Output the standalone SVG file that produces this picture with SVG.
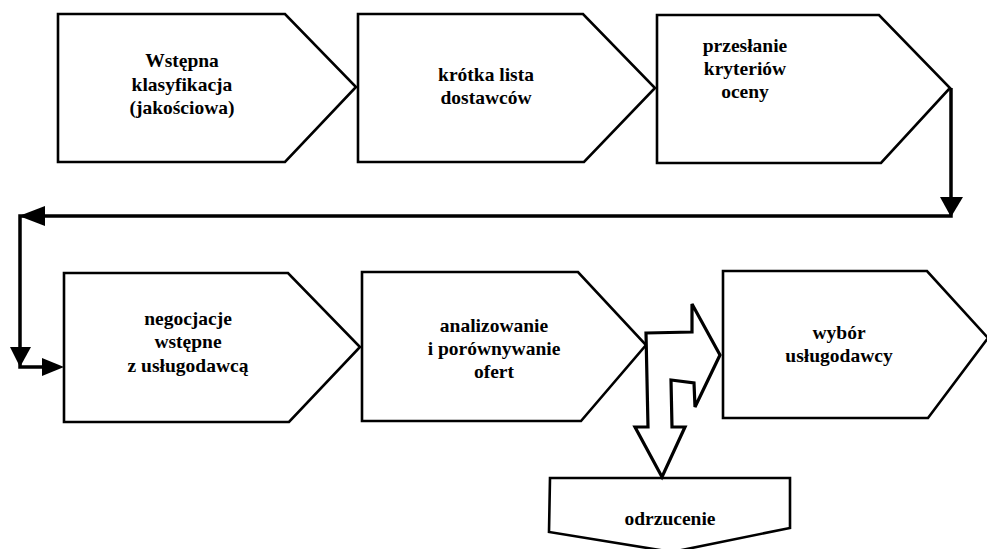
<svg xmlns="http://www.w3.org/2000/svg" width="987" height="549" viewBox="0 0 987 549">
<style>
.box{fill:#fff;stroke:#000;stroke-width:2.6;stroke-linejoin:miter}
text{font-family:'Liberation Serif','DejaVu Serif',serif;font-size:19.5px;font-weight:700;fill:#000;text-anchor:middle}
.ln{fill:none;stroke:#000;stroke-width:3.5}
.ah{fill:#000;stroke:none}
</style>
<rect width="987" height="549" fill="#fff"/>
<g id="node1">
<polygon class="box" points="58,14 285,14 356,87 285,162 58,162"/>
<text x="182" y="67">Wstępna</text>
<text x="182" y="91">klasyfikacja</text>
<text x="182" y="114">(jakościowa)</text>
</g>
<g id="node2">
<polygon class="box" points="358,14 583,14 655,88 584,162 358,162"/>
<text x="486" y="81">krótka lista</text>
<text x="486" y="104">dostawców</text>
</g>
<g id="node3">
<polygon class="box" points="657,15 879,15 950,88 881,163 657,163"/>
<text x="745" y="52">przesłanie</text>
<text x="745" y="75">kryteriów</text>
<text x="745" y="98">oceny</text>
</g>
<g id="node4">
<polygon class="box" points="64,273 288,273 360,347 289,422 64,422"/>
<text x="188" y="325">negocjacje</text>
<text x="188" y="348">wstępne</text>
<text x="188" y="372">z usługodawcą</text>
</g>
<g id="node5">
<polygon class="box" points="362,272 578,272 646,345 581,421 362,421"/>
<text x="494" y="332">analizowanie</text>
<text x="494" y="355">i porównywanie</text>
<text x="494" y="378">ofert</text>
</g>
<g id="node6">
<polygon class="box" points="723,271 927,271 988,338 928,418 723,418"/>
<text x="839" y="339">wybór</text>
<text x="839" y="362">usługodawcy</text>
</g>
<g id="node7">
<polygon class="box" points="550,478 790,478 790,528 672,552 549,532"/>
<text x="670" y="525">odrzucenie</text>
</g>
<g id="connectors">
<polyline class="ln" points="951,88 951,216 20,216 20,367 50,367"/>
<polygon class="ah" points="940,197 963,197 951,217"/>
<polygon class="ah" points="19,216 45,206 45,226"/>
<polygon class="ah" points="10,347 31,347 20,367"/>
<polygon class="ah" points="64,367 42,358 42,376"/>
<polygon fill="#fff" stroke="#000" stroke-width="3.2" stroke-linejoin="miter" points="646,333 692,332 692,304 720,355 695,407 694,383 671,380 672,427 685,427 662,477 635,427 648,427"/>
</g>
</svg>
